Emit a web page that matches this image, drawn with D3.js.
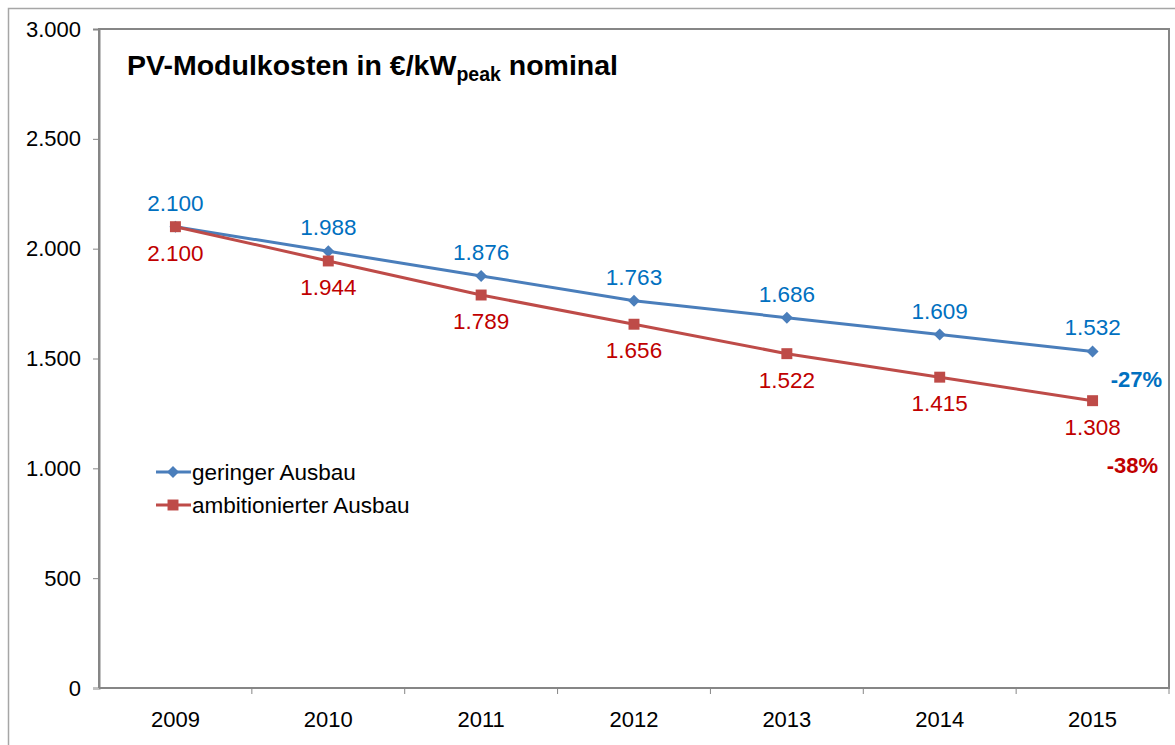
<!DOCTYPE html>
<meta charset="utf-8">
<script src="https://d3js.org/d3.v7.min.js"></script>
<html>
<style>
body { margin: 0; background: #fff; font-family: "Liberation Sans", Arial, sans-serif; }
</style>
<body>
<div id="chart"></div>
</body>
<script>
// data
var years = ["2009", "2010", "2011", "2012", "2013", "2014", "2015"];
var gering = [2100, 1988, 1876, 1763, 1686, 1609, 1532];
var ambitioniert = [2100, 1944, 1789, 1656, 1522, 1415, 1308];
var yTicks = [0, 500, 1000, 1500, 2000, 2500, 3000];
var seriesNames = ["geringer Ausbau", "ambitionierter Ausbau"];
var changes = ["-27%", "-38%"];

var W = 1175, H = 745;
var margin = { top: 29, right: 6, bottom: 57, left: 99 },
    width = W - margin.left - margin.right,
    height = H - margin.top - margin.bottom;

var de = d3.formatLocale({ decimal: ",", thousands: ".", grouping: [3], currency: ["", " €"] });
var fmt = de.format(",");

var svg = d3.select("#chart").append("svg")
    .attr("width", W).attr("height", H);

// outer frame
svg.append("path")
    .attr("d", "M8.5," + H + "V8.5H" + W)
    .attr("fill", "none").attr("stroke", "#a6a6a6").attr("stroke-width", 1.5);

var g = svg.append("g").attr("transform", "translate(" + margin.left + "," + margin.top + ")");

var x = d3.scaleBand().domain(years).range([0, width]);
var y = d3.scaleLinear().domain([0, 3000]).range([height, 0]);

// plot frame
g.append("rect").attr("x", 0).attr("y", 0).attr("width", width).attr("height", height)
    .attr("fill", "none").attr("stroke", "#868686").attr("stroke-width", 2);

// y axis
var yAxis = g.append("g").call(d3.axisLeft(y).tickValues(yTicks).tickFormat(fmt).tickSize(6).tickPadding(12));
yAxis.select(".domain").attr("stroke", "#868686").attr("stroke-width", 2);
yAxis.selectAll(".tick line").attr("stroke", "#868686");
yAxis.selectAll("text").attr("font-size", 22).attr("fill", "#000")
    .attr("font-family", "Liberation Sans, Arial, sans-serif");

// x axis (ticks at band boundaries)
var xAxis = g.append("g").attr("transform", "translate(0," + height + ")")
    .call(d3.axisBottom(x).tickSize(0).tickPadding(23));
xAxis.select(".domain").remove();
xAxis.selectAll("text").attr("font-size", 22).attr("fill", "#000")
    .attr("font-family", "Liberation Sans, Arial, sans-serif");
g.append("g").selectAll("line")
    .data(years)
    .enter().append("line")
    .attr("x1", function (d, i) { return x.step() * (i + 1); })
    .attr("x2", function (d, i) { return x.step() * (i + 1); })
    .attr("y1", height).attr("y2", height + 6)
    .attr("stroke", "#868686");
g.append("line").attr("x1", -6).attr("x2", 0).attr("y1", height + 0.5).attr("y2", height + 0.5)
    .attr("stroke", "#c0c0c0");

var cx = function (d, i) { return x(years[i]) + x.bandwidth() / 2; };

var series = [
    { name: seriesNames[0], values: gering, line: "#4a7ebb", label: "#0070c0", marker: "diamond", dy: -16, change: changes[0] },
    { name: seriesNames[1], values: ambitioniert, line: "#be4b48", label: "#c00000", marker: "square", dy: 34, change: changes[1] }
];

// diamond = square turned 45deg
var symFor = function (m) {
    return m === "diamond" ? d3.symbol().type(d3.symbolSquare).size(72)
                           : d3.symbol().type(d3.symbolSquare).size(120);
};
var rot = function (m) { return m === "diamond" ? " rotate(45)" : ""; };

var lineGen = d3.line().x(cx).y(function (d) { return y(d); });

series.forEach(function (s) {
    g.append("path").datum(s.values)
        .attr("d", lineGen)
        .attr("fill", "none").attr("stroke", s.line).attr("stroke-width", 3);
    g.selectAll(null).data(s.values).enter().append("path")
        .attr("d", symFor(s.marker))
        .attr("transform", function (d, i) { return "translate(" + cx(d, i) + "," + y(d) + ")" + rot(s.marker); })
        .attr("fill", s.line);
    g.selectAll(null).data(s.values).enter().append("text")
        .attr("x", cx).attr("y", function (d) { return y(d) + s.dy; })
        .attr("text-anchor", "middle").attr("font-size", 22.5).attr("fill", s.label)
        .text(fmt);
});

// percentage changes
svg.append("text").attr("x", 1162).attr("y", 387)
    .attr("text-anchor", "end").attr("font-size", 22).attr("font-weight", "bold")
    .attr("fill", series[0].label).text(series[0].change);
svg.append("text").attr("x", 1158).attr("y", 473)
    .attr("text-anchor", "end").attr("font-size", 22).attr("font-weight", "bold")
    .attr("fill", series[1].label).text(series[1].change);

// title
var title = svg.append("text").attr("x", 127).attr("y", 75)
    .attr("font-size", 28.5).attr("font-weight", "bold").attr("fill", "#000");
title.append("tspan").text("PV-Modulkosten in €/kW");
title.append("tspan").attr("dy", 6).attr("font-size", 19.5).text("peak");
title.append("tspan").attr("dy", -6).text(" nominal");

// legend
var legend = svg.append("g").attr("transform", "translate(156,472)");
series.forEach(function (s, i) {
    var row = legend.append("g").attr("transform", "translate(0," + (i * 33) + ")");
    row.append("line").attr("x1", 0).attr("x2", 35).attr("stroke", s.line).attr("stroke-width", 3);
    row.append("path")
        .attr("d", symFor(s.marker)())
        .attr("transform", "translate(17,0)" + rot(s.marker)).attr("fill", s.line);
    row.append("text").attr("x", 36).attr("y", 8).attr("font-size", 22.5)
        .attr("fill", "#000").text(s.name);
});
</script>
</html>
